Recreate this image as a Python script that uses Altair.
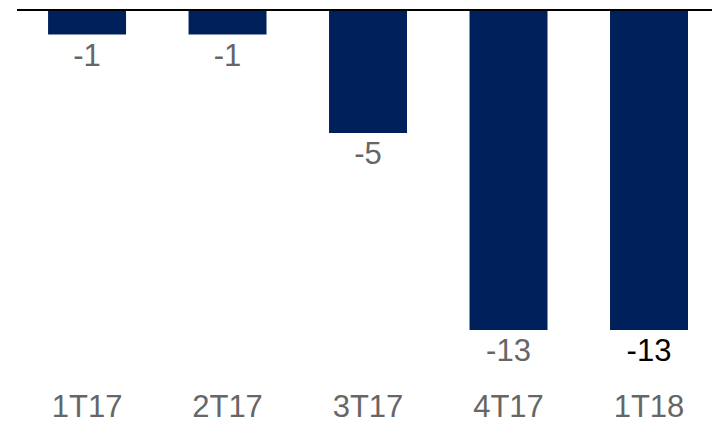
import altair as alt
import pandas as pd

categories = ["1T17", "2T17", "3T17", "4T17", "1T18"]
values = [-1, -1, -5, -13, -13]
value_labels = ["-1", "-1", "-5", "-13", "-13"]
label_colors = ["#666666", "#666666", "#666666", "#666666", "#000000"]

df = pd.DataFrame({"cat": categories, "val": values, "txt": value_labels, "lc": label_colors})

W = 695
x = alt.X("cat:N", sort=categories,
          scale=alt.Scale(paddingInner=0.445, paddingOuter=0.196, align=0.564),
          axis=alt.Axis(title=None, domain=False, ticks=False, labelAngle=0,
                        labelFont="Liberation Sans", labelFontSize=31,
                        labelColor="#666666", labelPadding=62, grid=False))
y = alt.Y("val:Q", scale=alt.Scale(domain=[-13, 0], nice=False, zero=True),
          axis=None)

bars = alt.Chart(df).mark_bar(color="#00205B").encode(x=x, y=y, y2=alt.datum(0))

labels = alt.Chart(df).mark_text(font="Liberation Sans", fontSize=31,
                                 baseline="middle", dy=22).encode(
    x=alt.X("cat:N", sort=categories),
    y="val:Q",
    text="txt:N",
    color=alt.Color("lc:N", scale=None),
)

rule = alt.Chart(df).mark_rule(color="#000000", strokeWidth=2).encode(
    y=alt.datum(0), x=alt.value(0), x2=alt.value(W))

chart = alt.layer(bars, labels, rule).properties(
    width=W, height=320,
    autosize=alt.AutoSizeParams(type="none"),
    padding={"left": 17, "top": 10, "right": 0, "bottom": 91},
).configure_view(stroke=None)

chart.save("out.html", embed_options={"renderer": "svg", "actions": False})
